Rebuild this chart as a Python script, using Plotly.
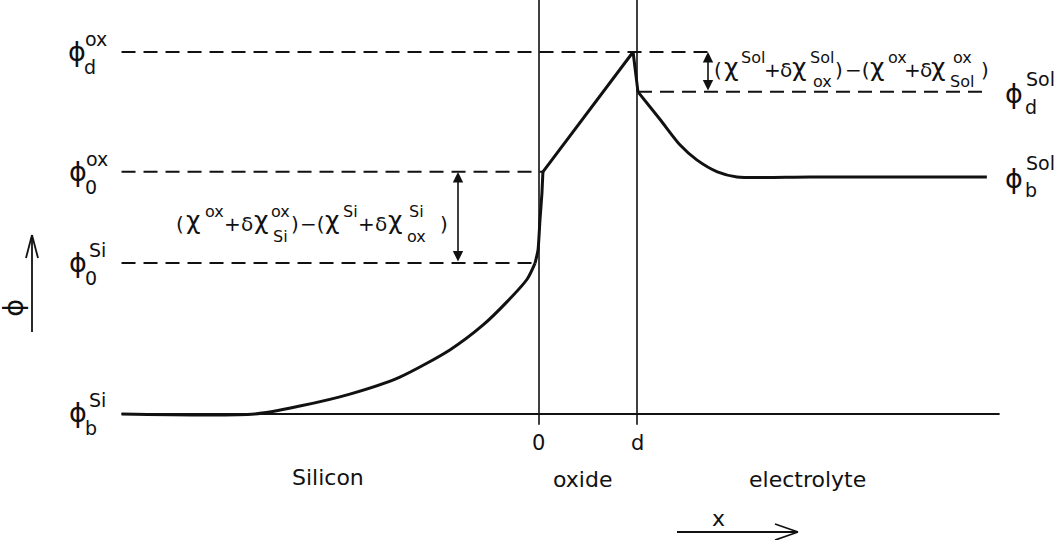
import plotly.graph_objects as go

# ---- potential profile data (x in units of oxide thickness, phi in arbitrary units) ----
D = 1.0  # oxide thickness

PHI_B_SI = 0.0
PHI_0_SI = 4.17
PHI_0_OX = 6.69
PHI_D_OX = 10.0
PHI_D_SOL = 8.90
PHI_B_SOL = 6.55

si_x = [-4.26, -2.90, -2.44, -1.93, -1.42, -0.91, -0.57, -0.33, -0.12, -0.04]
si_phi = [0.0, 0.0, 0.22, 0.55, 1.02, 1.77, 2.46, 3.09, 3.73, 4.17]

dip_x = [-0.04, -0.01, 0.01, 0.03, 0.04]
dip_phi = [4.17, 4.53, 5.36, 6.10, 6.69]

ox_x = [0.04, 0.96, 1.01]
ox_phi = [6.69, 10.0, 8.90]

el_x = [1.01, 1.24, 1.44, 1.61, 1.82, 2.02, 2.77, 4.57]
el_phi = [8.90, 8.12, 7.43, 7.02, 6.69, 6.55, 6.55, 6.55]

x_left = -4.26
x_right = 4.70
x_sol_end = 4.57
x_dox_end = 1.78

# ---- figure geometry ----
W, H = 1060, 540
X_ORIGIN_PX, X_SCALE = 539.0, 98.0
Y_BASE_PX, Y_SCALE = 414.0, 36.2

FONT = "DejaVu Sans"
INK = "#111111"


def px(x):
    return x / W


def py(y):
    return 1 - y / H


fig = go.Figure()


def line(xs, ys, width=3.0, dash="solid", shape="linear", smoothing=1.0):
    kw = dict(color=INK, width=width, dash=dash, shape=shape)
    if shape == "spline":
        kw["smoothing"] = smoothing
    fig.add_trace(go.Scatter(x=xs, y=ys, mode="lines", line=kw, hoverinfo="skip"))


DASH = "14px,8px"

# interface verticals
line([0, 0], [-0.3, 11.5], width=1.6)
line([D, D], [-0.3, 11.5], width=1.6)

# bulk silicon reference level
line([x_left, x_right], [PHI_B_SI, PHI_B_SI], width=2.0)

# dashed potential levels
line([x_left, x_dox_end], [PHI_D_OX, PHI_D_OX], width=2.0, dash=DASH)
line([x_left, ox_x[0]], [PHI_0_OX, PHI_0_OX], width=2.0, dash=DASH)
line([x_left, si_x[-1]], [PHI_0_SI, PHI_0_SI], width=2.0, dash=DASH)
line([el_x[0], x_sol_end], [PHI_D_SOL, PHI_D_SOL], width=2.0, dash=DASH)

# potential profile
line(si_x, si_phi, width=3.0, shape="spline", smoothing=0.7)
line(dip_x, dip_phi, width=3.0, shape="spline", smoothing=0.5)
line(ox_x, ox_phi, width=3.0)
line(el_x, el_phi, width=3.0, shape="spline", smoothing=0.7)

annotations = []
shapes = []


def txt(s, x, y, size=20, angle=0):
    annotations.append(dict(
        text=s, x=px(x), y=py(y), xref="paper", yref="paper",
        xanchor="center", yanchor="middle", showarrow=False,
        textangle=angle, font=dict(family=FONT, size=size, color=INK),
    ))


def phi_label(x, y, sup, sub):
    txt("ϕ", x, y - 1, size=27)
    txt(sup, x + 19, y - 13, size=19)
    txt(sub, x + 13, y + 15, size=19)


# level labels
phi_label(77, 52, "ox", "d")
phi_label(78, 172, "ox", "0")
phi_label(78, 263, "Si", "0")
phi_label(78, 413, "Si", "b")
txt("ϕ", 1014, 93, size=27)
txt("Sol", 1040, 79, size=19)
txt("d", 1031, 107, size=19)
txt("ϕ", 1014, 178, size=27)
txt("Sol", 1040, 163, size=19)
txt("b", 1031, 190, size=19)

# axis symbols and region names
txt("ϕ", 18, 308, size=27, angle=90)
txt("0", 538, 443, size=21)
txt("d", 637, 443, size=21)
txt("Silicon", 328, 477, size=22)
txt("oxide", 582, 479, size=22)
txt("electrolyte", 807, 479, size=22)
txt("x", 718, 518, size=22)


def expression(tokens, base_y, sup_dy, sub_dy):
    for s, x, lvl in tokens:
        if lvl == "b":
            txt(s, x, base_y, size=20)
        elif lvl == "c":  # chi glyph, nudged up to sit on the cap line
            txt(s, x, base_y - 3, size=25)
        elif lvl == "p":
            txt(s, x, base_y - sup_dy, size=16)
        else:
            txt(s, x, base_y + sub_dy, size=16)


left_tokens = [
    ("(", 180, "b"), ("χ", 193, "c"), ("ox", 214, "p"), ("+", 232, "b"),
    ("δ", 247, "b"), ("χ", 261, "c"), ("ox", 280, "p"), ("Si", 280, "s"),
    (")", 295, "b"), ("−(", 312, "b"), ("χ", 332, "c"),
    ("Si", 350, "p"), ("+", 366, "b"), ("δ", 381, "b"), ("χ", 395, "c"),
    ("Si", 416, "p"), ("ox", 416, "s"), (")", 444, "b"),
]
expression(left_tokens, 224, 13, 12)

right_tokens = [
    ("(", 718, "b"), ("χ", 731, "c"), ("Sol", 753, "p"), ("+", 772, "b"),
    ("δ", 786, "b"), ("χ", 799, "c"), ("Sol", 822, "p"), ("ox", 822, "s"),
    (")", 839, "b"), ("−(", 857, "b"), ("χ", 877, "c"),
    ("ox", 897, "p"), ("+", 912, "b"), ("δ", 926, "b"), ("χ", 938, "c"),
    ("ox", 962, "p"), ("Sol", 962, "s"), (")", 985, "b"),
]
expression(right_tokens, 70, 12, 11)


def arrow(x0, y0, x1, y1, both=False, head=2, size=1.3):
    annotations.append(dict(
        x=px(x1), y=py(y1), xref="paper", yref="paper",
        ax=x0 - x1, ay=y0 - y1, axref="pixel", ayref="pixel",
        showarrow=True, arrowhead=head, arrowsize=size, arrowwidth=1.6,
        arrowcolor=INK, arrowside="end+start" if both else "end", text="",
    ))


def seg(x0, y0, x1, y1, w=1.8):
    shapes.append(dict(type="line", xref="paper", yref="paper",
                       x0=px(x0), y0=py(y0), x1=px(x1), y1=py(y1),
                       line=dict(color=INK, width=w)))


# double-headed markers for the interface dipole steps
arrow(458, 263, 458, 172, both=True)
arrow(708, 92, 708, 52, both=True)

# phi axis arrow with open head
seg(32, 332, 32, 236)
seg(32, 235, 26, 258)
seg(32, 235, 38, 258)

# x direction arrow with open head
seg(677, 532, 797, 532)
seg(798, 532, 775, 524)
seg(798, 532, 775, 540)

fig.update_layout(
    width=W, height=H, margin=dict(l=0, r=0, t=0, b=0),
    paper_bgcolor="white", plot_bgcolor="white", showlegend=False,
    xaxis=dict(range=[(0 - X_ORIGIN_PX) / X_SCALE, (W - X_ORIGIN_PX) / X_SCALE],
               visible=False, fixedrange=True),
    yaxis=dict(range=[(Y_BASE_PX - H) / Y_SCALE, Y_BASE_PX / Y_SCALE],
               visible=False, fixedrange=True),
    annotations=annotations,
    shapes=shapes,
)

fig.write_html("out.html")
